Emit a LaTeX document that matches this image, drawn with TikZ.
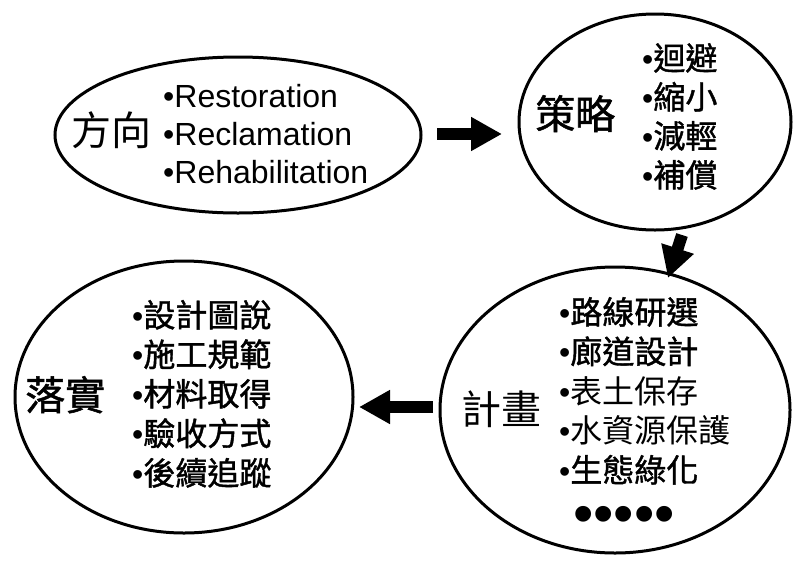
\documentclass[tikz,border=0pt]{standalone}
\usepackage{fontspec}
\setmainfont{Liberation Sans}
\newfontfamily\cjk{Noto Sans CJK TC}
\newfontfamily\cjkb{Noto Sans CJK TC}[FakeBold=1.3]
\usetikzlibrary{shapes.geometric,arrows.meta,calc}
\begin{document}
\begin{tikzpicture}[x=1pt,y=-1pt,
  oval/.style={ellipse, draw, line width=3pt, inner sep=0pt, outer sep=0pt},
  blk/.style={line width=12pt, -{Triangle[length=31pt,width=32pt]}},
  ttl/.style={anchor=base west, inner sep=0pt, font=\fontsize{40}{40}\selectfont},
  itm/.style={anchor=base west, inner sep=0pt, font=\fontsize{32}{38}\selectfont}]
\useasboundingbox (0,0) rectangle (794,560);
% ellipses
\node[oval, minimum width=366pt, minimum height=156pt] (e1) at (238,135) {};
\node[oval, minimum width=272pt, minimum height=216pt] (e2) at (655,122) {};
\node[oval, minimum width=338pt, minimum height=272pt] (e3) at (184,397) {};
\node[oval, minimum width=350pt, minimum height=286pt] (e4) at (615,410) {};
% titles
\node[ttl] (t1) at (71,145) {\cjk 方向};
\node[ttl] (t2) at (535,129) {\cjkb 策略};
\node[ttl] (t3) at (25,410) {\cjkb 落實};
\node[ttl] (t4) at (461,424) {\cjk 計畫};
% items of e1
\node[itm] (a1) at (163,107) {•Restoration};
\node[itm] (a2) at (163,145) {•Reclamation};
\node[itm] (a3) at (163,183) {•Rehabilitation};
% items of e2
\foreach \t [count=\i] in {迴避,縮小,減輕,補償}
  \node[itm] (b\i) at (642,{70+39*(\i-1)}) {•{\cjkb\t}};
% items of e3
\foreach \t [count=\i] in {設計圖說,施工規範,材料取得,驗收方式,後續追蹤}
  \node[itm] (c\i) at (132,{327+39.5*(\i-1)}) {•{\cjkb\t}};
% items of e4
\node[itm] (d1) at (559,324) {•{\cjkb 路線研選}};
\node[itm] (d2) at (559,363.5) {•{\cjkb 廊道設計}};
\node[itm] (d3) at (559,403) {•{\cjk 表土保存}};
\node[itm] (d4) at (559,442.5) {•{\cjk 水資源保護}};
\node[itm] (d5) at (559,482) {•{\cjkb 生態綠化}};
\node[anchor=base west, inner sep=0pt, font=\fontsize{58}{58}\selectfont] (d6) at (573,533) {•••••};
% arrows
\draw[blk] ([shift={(16,-1)}]e1.east) -- ([shift={(-17,12)}]e2.west);
\draw[blk] ([shift={(27,5)}]e2.south) -- ([shift={(53,11)}]e4.north);
\draw[blk] ([shift={(-7,-3)}]e4.west) -- ([shift={(6,10)}]e3.east);
\end{tikzpicture}
\end{document}
